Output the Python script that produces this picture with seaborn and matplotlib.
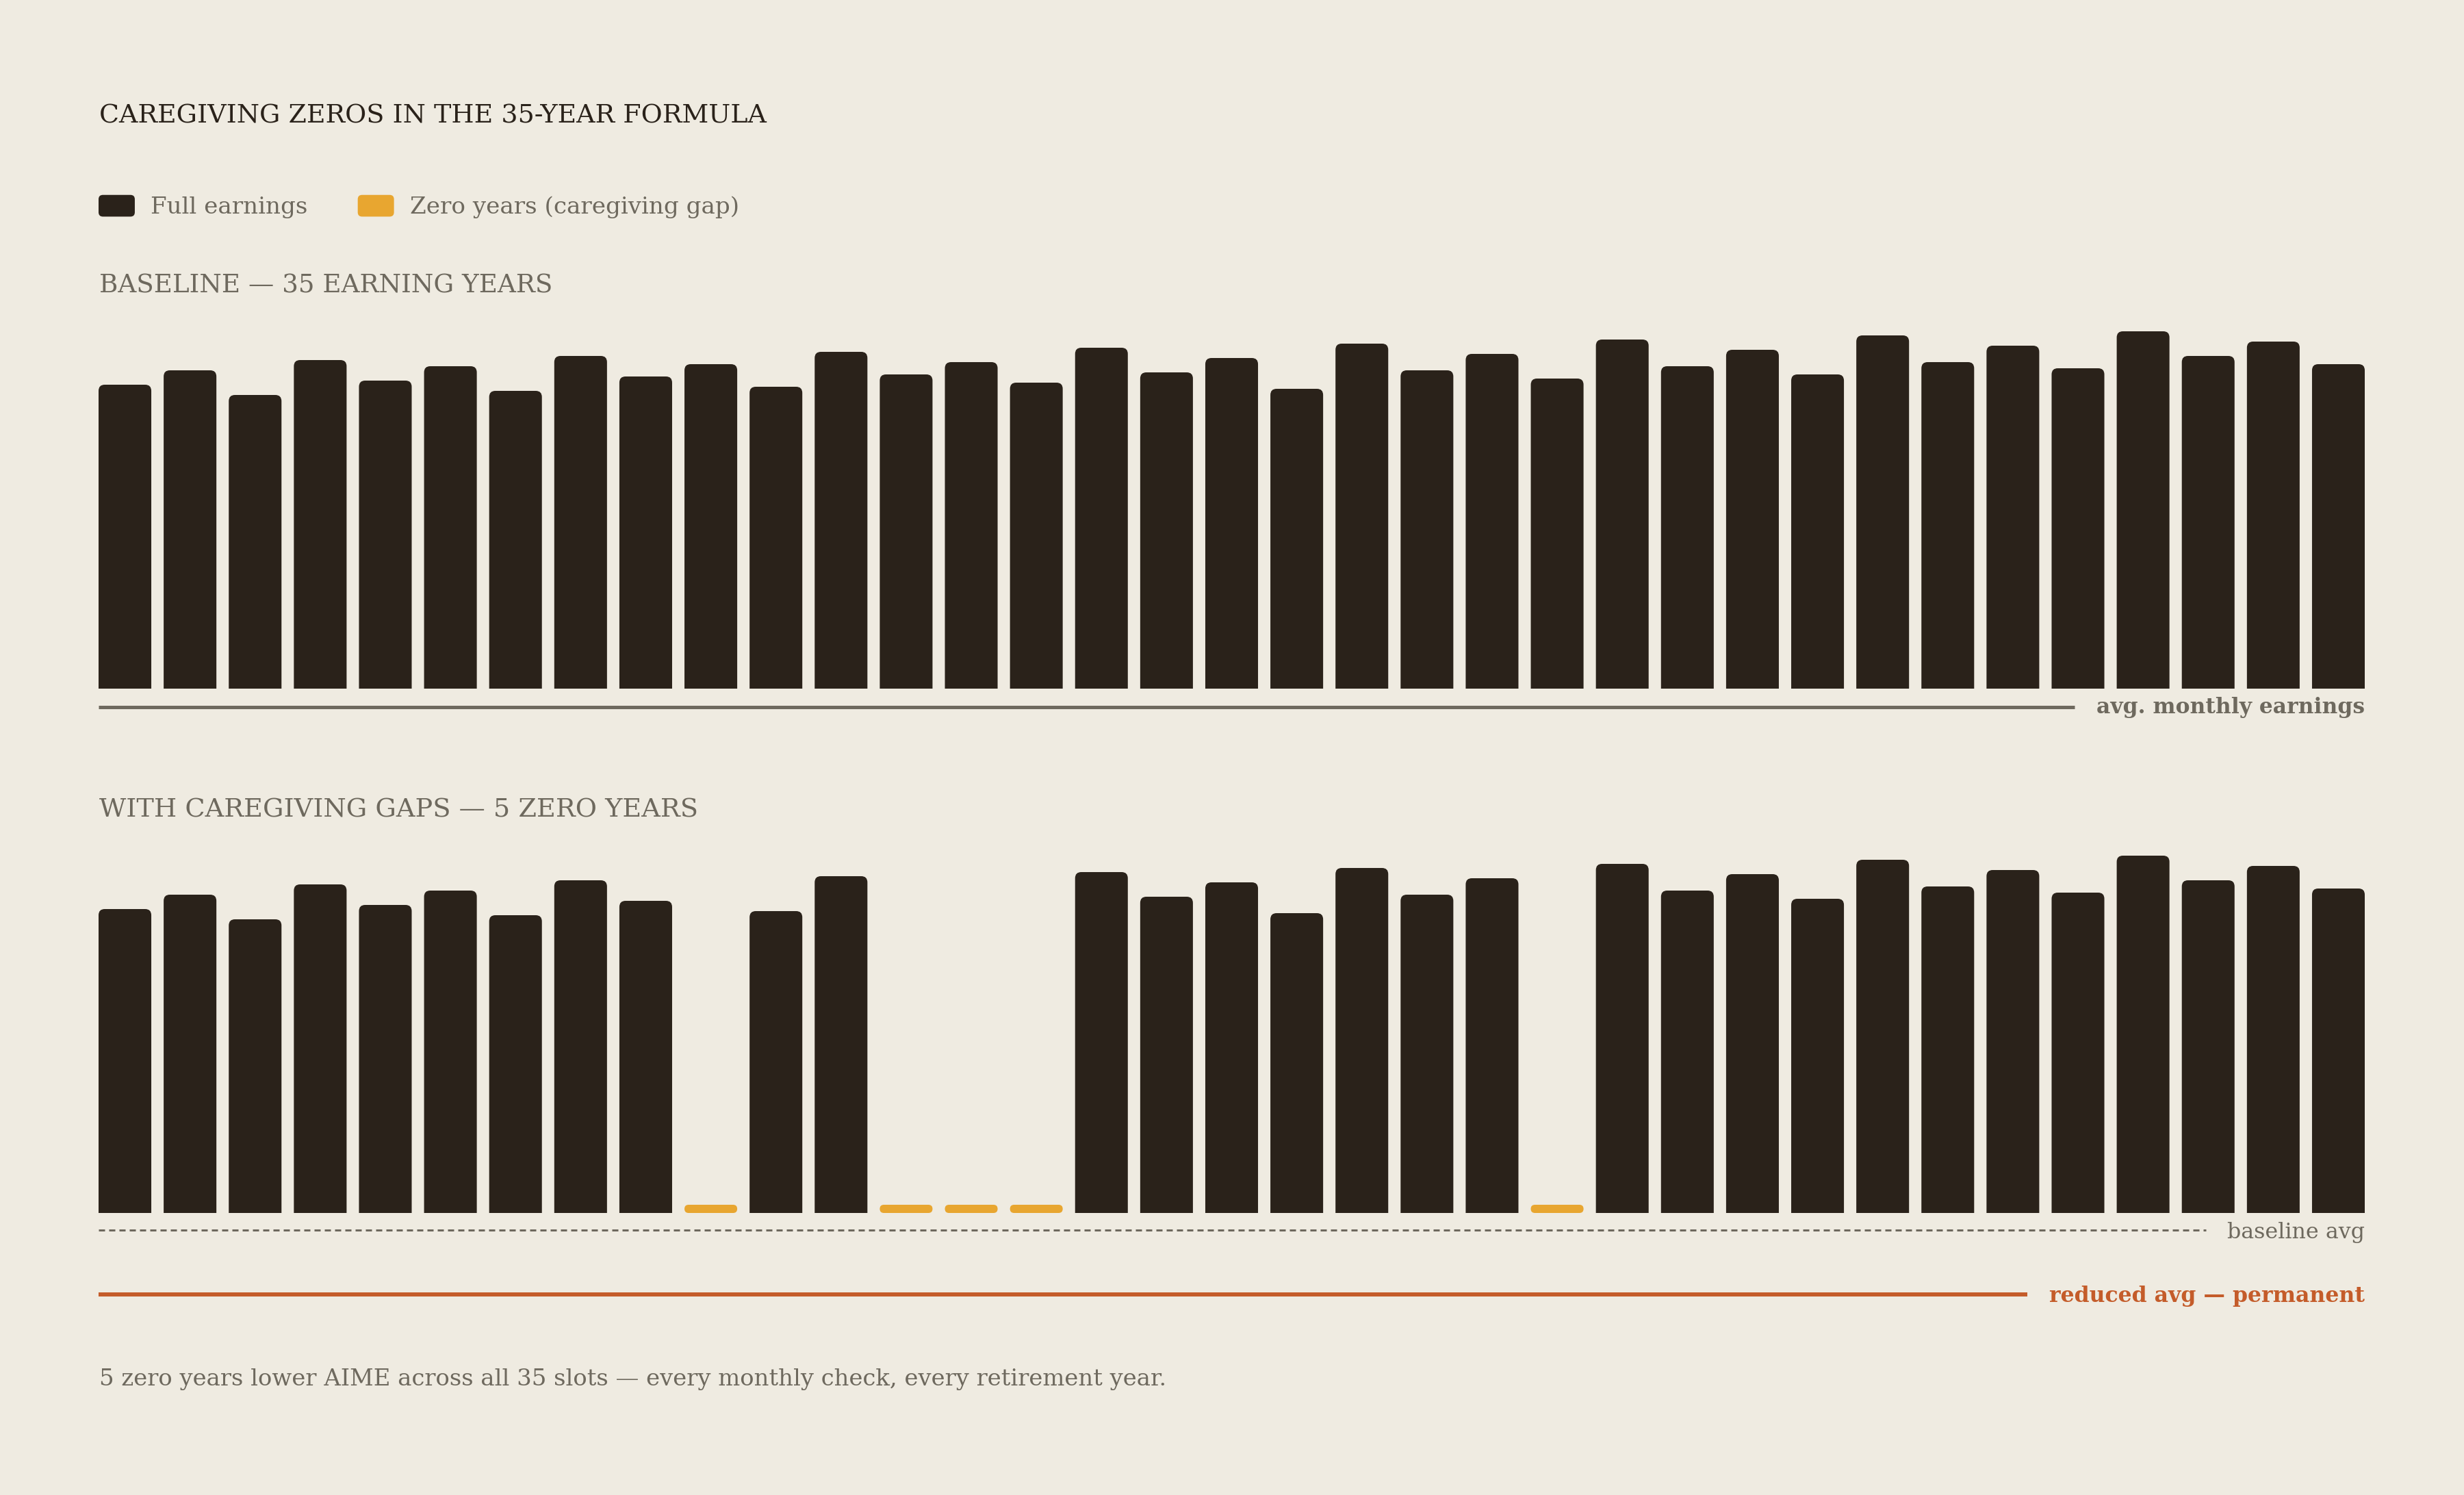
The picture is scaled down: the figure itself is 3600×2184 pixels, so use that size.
import numpy as np
import pandas as pd
import seaborn as sns
import matplotlib
matplotlib.use("Agg")
import matplotlib.pyplot as plt
from matplotlib.patches import FancyBboxPatch, Patch
from matplotlib.lines import Line2D
from matplotlib.legend_handler import HandlerBase

# ---------------- data ----------------
years = list(range(1, 36))
baseline_earnings = [4440, 4650, 4290, 4800, 4500, 4710, 4350, 4860, 4560, 4740,
                     4410, 4920, 4590, 4770, 4470, 4980, 4620, 4830, 4380, 5040,
                     4650, 4890, 4530, 5100, 4710, 4950, 4590, 5160, 4770, 5010,
                     4680, 5220, 4860, 5070, 4740]
zero_years = [10, 13, 14, 15, 23]
gap_earnings = [0 if y in zero_years else v for y, v in zip(years, baseline_earnings)]
status = ["Zero years (caregiving gap)" if y in zero_years else "Full earnings" for y in years]
legend_labels = ["Full earnings", "Zero years (caregiving gap)"]

title = "CAREGIVING ZEROS IN THE 35-YEAR FORMULA"
panel1_title = "BASELINE — 35 EARNING YEARS"
panel2_title = "WITH CAREGIVING GAPS — 5 ZERO YEARS"
avg_label = "avg. monthly earnings"
baseline_label = "baseline avg"
reduced_label = "reduced avg — permanent"
footer = "5 zero years lower AIME across all 35 slots — every monthly check, every retirement year."

# ---------------- style ----------------
BG = "#efebe1"
DARK = "#2a221a"
GOLD = "#e8a630"
ORANGE = "#c45c2a"
GRAY = "#6e695e"

sns.set_theme(style="white", rc={"figure.facecolor": BG, "axes.facecolor": BG,
                                 "savefig.facecolor": BG})
plt.rcParams["font.family"] = ["DejaVu Serif", "DejaVu Sans"]

W, H = 3600, 2184
fig = plt.figure(figsize=(12, 7.28), dpi=300)
renderer = fig.canvas.get_renderer()


def fx(x):
    return x / W


def fy(y):
    return 1 - y / H


def fit_width(t, target_px):
    w = t.get_window_extent(renderer).width
    t.set_fontsize(t.get_fontsize() * target_px / w)
    return t


X0, X1 = 144, 3455
PANEL_H = 560
YMAX = 5600
SLOT = (X1 - X0) / 34.81


def make_ax(base_px):
    return fig.add_axes([fx(X0), fy(base_px), (X1 - X0) / W, PANEL_H / H])


ax1 = make_ax(1006)
ax2 = make_ax(1772)

df_base = pd.DataFrame({"year": years, "earnings": baseline_earnings})
df_gap = pd.DataFrame({"year": years, "earnings": gap_earnings, "status": status})

sns.barplot(data=df_base, x="year", y="earnings", color=DARK, saturation=1,
            width=0.81, linewidth=0, ax=ax1)
sns.barplot(data=df_gap, x="year", y="earnings", hue="status",
            palette={"Full earnings": DARK, "Zero years (caregiving gap)": GOLD},
            hue_order=legend_labels, saturation=1, width=0.81, linewidth=0,
            dodge=False, legend=False, ax=ax2)

units_per_px = YMAX / PANEL_H


def round_bars(ax):
    rects = list(ax.patches)
    r_px = 9
    rx = r_px / SLOT
    aspect = units_per_px * SLOT
    for p in rects:
        x, w, h = p.get_x(), p.get_width(), p.get_height()
        fc = p.get_facecolor()
        p.remove()
        if h <= 0:
            stub = 12 * units_per_px
            sr = 6 / SLOT
            np_ = FancyBboxPatch((x, 0), w, stub,
                                 boxstyle=f"round,pad=0,rounding_size={sr}",
                                 mutation_aspect=aspect, fc=GOLD, ec="none")
        else:
            ry = r_px * units_per_px
            np_ = FancyBboxPatch((x, -ry), w, h + ry,
                                 boxstyle=f"round,pad=0,rounding_size={rx}",
                                 mutation_aspect=aspect, fc=fc, ec="none")
        ax.add_patch(np_)
        np_.set_clip_box(ax.bbox)


for ax in (ax1, ax2):
    round_bars(ax)
    ax.set_xlim(-0.405, 34.405)
    ax.set_ylim(0, YMAX)
    ax.axis("off")

# ---------------- texts ----------------
t = fig.text(fx(145), fy(180), title, fontsize=8.4, color=DARK, va="baseline", ha="left")
fit_width(t, 975)
t = fig.text(fx(145), fy(427), panel1_title, fontsize=8.9, color=GRAY, va="baseline", ha="left")
fit_width(t, 662)
t = fig.text(fx(145), fy(1193), panel2_title, fontsize=8.9, color=GRAY, va="baseline", ha="left")
fit_width(t, 873)
t = fig.text(fx(145), fy(2024), footer, fontsize=7.9, color=GRAY, va="baseline", ha="left")
fit_width(t, 1560)


# legend with rounded swatches
class RoundHandler(HandlerBase):
    def create_artists(self, legend, orig_handle, xdescent, ydescent, width, height,
                       fontsize, trans):
        p = FancyBboxPatch((-xdescent, -ydescent), width, height,
                           boxstyle=f"round,pad=0,rounding_size={height * 0.2}",
                           fc=orig_handle.get_facecolor(), ec="none", transform=trans)
        return [p]


handles = [Patch(fc=DARK), Patch(fc=GOLD)]
leg = fig.legend(handles, legend_labels, loc="center left",
                 bbox_to_anchor=(fx(144), fy(302)), ncol=2, frameon=False,
                 fontsize=8.2, handlelength=1.55, handleheight=1.05,
                 handletextpad=0.67, columnspacing=2.15, borderpad=0,
                 borderaxespad=0, handler_map={Patch: RoundHandler()})
for tt in leg.get_texts():
    tt.set_color(GRAY)

# ---------------- reference rules ----------------
fig.add_artist(Line2D([fx(144), fx(3031)], [fy(1033), fy(1033)], transform=fig.transFigure,
                      color=GRAY, lw=1.2, solid_capstyle="butt"))
t = fig.text(fx(3455), fy(1042), avg_label, fontsize=8.0, color=GRAY, fontweight="bold",
             ha="right", va="baseline")
fit_width(t, 392)

fig.add_artist(Line2D([fx(144), fx(3223)], [fy(1797), fy(1797)], transform=fig.transFigure,
                      color=GRAY, lw=0.72, linestyle=(0, (3, 2)), dash_capstyle="butt"))
t = fig.text(fx(3455), fy(1809), baseline_label, fontsize=8.0, color=GRAY,
             ha="right", va="baseline")
fit_width(t, 202)

fig.add_artist(Line2D([fx(144), fx(2962)], [fy(1891), fy(1891)], transform=fig.transFigure,
                      color=ORANGE, lw=1.44, solid_capstyle="butt"))
t = fig.text(fx(3455), fy(1902), reduced_label, fontsize=8.0, color=ORANGE, fontweight="bold",
             ha="right", va="baseline")
fit_width(t, 461)

fig.savefig("out.png", dpi=300, facecolor=BG)
